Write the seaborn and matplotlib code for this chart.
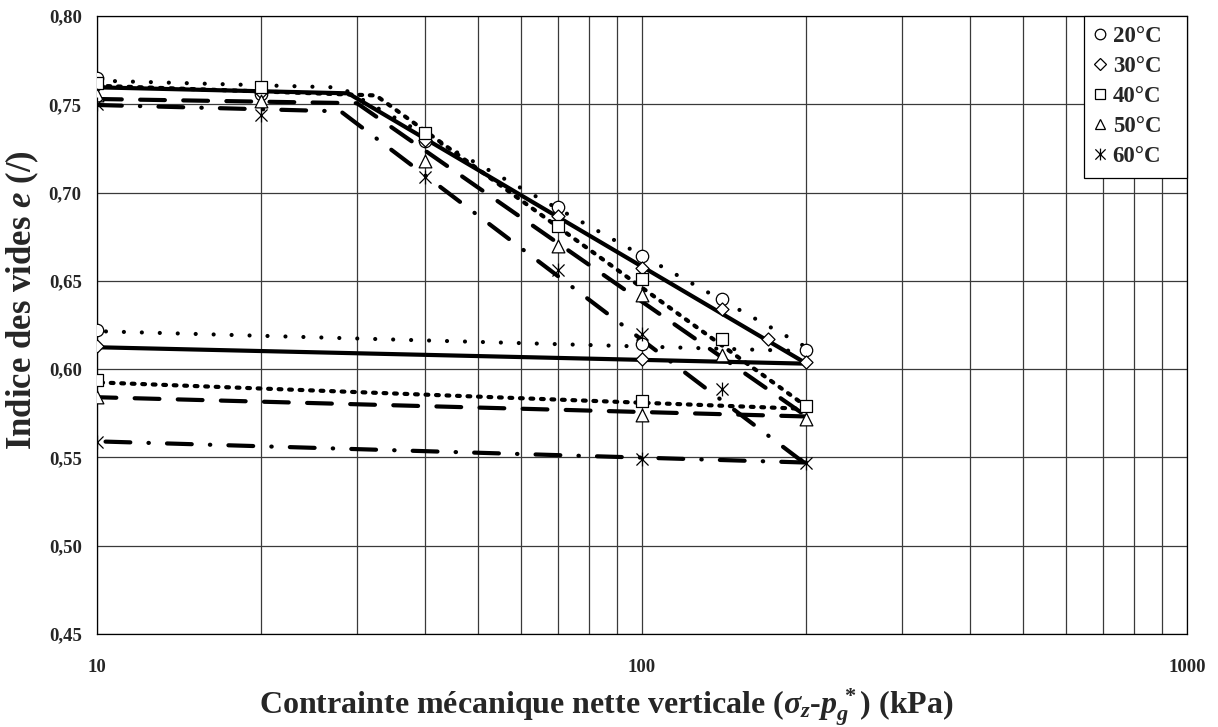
import numpy as np
import pandas as pd
import matplotlib
matplotlib.use("Agg")
import matplotlib.pyplot as plt
from matplotlib.path import Path
from matplotlib.lines import Line2D
from matplotlib.ticker import FixedLocator, FuncFormatter, NullFormatter
import seaborn as sns

# ---- data -----------------------------------------------------------------
temps = ["20°C", "30°C", "40°C", "50°C", "60°C"]

# measured void ratio, loading path
sigma_load = [10, 20, 40, 70, 100, 140, 200]
sigma_load_30 = [10, 20, 40, 70, 100, 140, 170, 200]
e_load_20 = [0.765, 0.756, 0.729, 0.692, 0.664, 0.640, 0.611]
e_load_30 = [0.761, 0.757, 0.730, 0.687, 0.657, 0.634, 0.617, 0.604]
e_load_40 = [0.762, 0.760, 0.734, 0.681, 0.651, 0.617, 0.579]
e_load_50 = [0.755, 0.752, 0.718, 0.670, 0.642, 0.608, 0.572]
e_load_60 = [0.750, 0.744, 0.709, 0.656, 0.620, 0.589, 0.547]

# measured void ratio, unloading path
sigma_unload = [100, 10]
e_unload_20 = [0.614, 0.622]
e_unload_30 = [0.606, 0.613]
e_unload_40 = [0.582, 0.594]
e_unload_50 = [0.574, 0.584]
e_unload_60 = [0.549, 0.559]

# bilinear fits of the loading paths: start, yield point, end
fit_sigma_20 = [10, 28.0, 200]
fit_sigma_30 = [10, 28.9, 200]
fit_sigma_40 = [10, 32.5, 200]
fit_sigma_50 = [10, 30.0, 200]
fit_sigma_60 = [10, 28.0, 200]
fit_e_20 = [0.7634, 0.7595, 0.6125]
fit_e_30 = [0.7596, 0.7562, 0.6033]
fit_e_40 = [0.7605, 0.7550, 0.5790]
fit_e_50 = [0.7530, 0.7506, 0.5735]
fit_e_60 = [0.7496, 0.7460, 0.5461]

# linear fits of the unloading paths
fit_sigma_unload = [200, 10]
fit_unload_e_20 = [0.6102, 0.6215]
fit_unload_e_30 = [0.6031, 0.6124]
fit_unload_e_40 = [0.5775, 0.5925]
fit_unload_e_50 = [0.5732, 0.5841]
fit_unload_e_60 = [0.5471, 0.5591]

y_ticks = [0.45, 0.50, 0.55, 0.60, 0.65, 0.70, 0.75, 0.80]
x_ticks = [10, 100, 1000]

# ---- tables ---------------------------------------------------------------
load_pts = {
    "20°C": (sigma_load, e_load_20), "30°C": (sigma_load_30, e_load_30),
    "40°C": (sigma_load, e_load_40), "50°C": (sigma_load, e_load_50),
    "60°C": (sigma_load, e_load_60),
}
unload_pts = {
    "20°C": e_unload_20, "30°C": e_unload_30, "40°C": e_unload_40,
    "50°C": e_unload_50, "60°C": e_unload_60,
}
fits = {
    "20°C": (fit_sigma_20, fit_e_20, fit_unload_e_20),
    "30°C": (fit_sigma_30, fit_e_30, fit_unload_e_30),
    "40°C": (fit_sigma_40, fit_e_40, fit_unload_e_40),
    "50°C": (fit_sigma_50, fit_e_50, fit_unload_e_50),
    "60°C": (fit_sigma_60, fit_e_60, fit_unload_e_60),
}

rows = []
for t in temps:
    s_l, e_l, e_u = fits[t]
    for s, e in zip(s_l, e_l):
        rows.append((t, "load", s, e))
    for s, e in zip(fit_sigma_unload, e_u):
        rows.append((t, "unload", s, e))
lines = pd.DataFrame(rows, columns=["temp", "branch", "sigma", "e"])

pts = []
for t in temps:
    s_l, e_l = load_pts[t]
    pts += [(t, s, e) for s, e in zip(s_l, e_l)]
    pts += [(t, s, e) for s, e in zip(sigma_unload, unload_pts[t])]
points = pd.DataFrame(pts, columns=["temp", "sigma", "e"])

# ---- style ----------------------------------------------------------------
sns.set_style("white")
plt.rcParams["font.family"] = ["Liberation Serif", "DejaVu Serif"]
plt.rcParams["font.weight"] = "bold"
plt.rcParams["mathtext.fontset"] = "custom"
plt.rcParams["mathtext.rm"] = "Liberation Serif:bold"
plt.rcParams["mathtext.bf"] = "Liberation Serif:bold"
plt.rcParams["mathtext.it"] = "Liberation Serif:italic:bold"

star = Path(
    [(-1, -1), (1, 1), (-1, 1), (1, -1), (0, -1.15), (0, 1.15)],
    [Path.MOVETO, Path.LINETO, Path.MOVETO, Path.LINETO, Path.MOVETO, Path.LINETO],
)
markers = {"20°C": "o", "30°C": "D", "40°C": "s", "50°C": "^", "60°C": star}
msize = {"20°C": 80, "30°C": 44, "40°C": 68, "50°C": 84, "60°C": 100}
dash_map = {
    "20°C": (0.01, 4.3),
    "30°C": "",
    "40°C": (0.67, 1.85),
    "50°C": (5.95, 4.4),
    "60°C": (5.95, 4.35, 0.1, 4.35),
}

W, H = 1218, 727
fig = plt.figure(figsize=(W / 100, H / 100), dpi=100)
ax = fig.add_axes([97 / W, 1 - 634 / H, 1090 / W, 618 / H])

ax.set_xscale("log")
ax.set_xlim(10, 1000)
ax.set_ylim(0.45, 0.80)

# fitted trend lines
sns.lineplot(
    data=lines, x="sigma", y="e", style="temp", units="branch",
    estimator=None, sort=False, dashes=dash_map, color="black",
    linewidth=3.0, legend=False, ax=ax, zorder=3,
    dash_capstyle="round", solid_capstyle="round",
)

# measured points
for t in temps:
    sub = points[points["temp"] == t]
    sns.scatterplot(
        data=sub, x="sigma", y="e", marker=markers[t], s=msize[t],
        color="white", edgecolor="black", linewidth=0.9, zorder=5,
        legend=False, ax=ax,
    )

# grid, ticks, frame
ax.xaxis.set_major_locator(FixedLocator(x_ticks))
ax.xaxis.set_minor_locator(FixedLocator(
    [m * d for d in (10, 100) for m in range(2, 10)]))
ax.xaxis.set_major_formatter(FuncFormatter(lambda v, p: f"{v:g}"))
ax.xaxis.set_minor_formatter(NullFormatter())
ax.yaxis.set_major_locator(FixedLocator(y_ticks))
ax.yaxis.set_major_formatter(FuncFormatter(lambda v, p: f"{v:.2f}".replace(".", ",")))

ax.grid(which="major", axis="both", color="#3a3a3a", linewidth=0.9, zorder=0)
ax.grid(which="minor", axis="x", color="#3a3a3a", linewidth=0.9, zorder=0)
ax.set_axisbelow(True)
for sp in ax.spines.values():
    sp.set_color("black")
    sp.set_linewidth(0.9)

ax.tick_params(axis="both", which="major", direction="out", length=5,
               width=0.9, color="black", labelsize=13.5, pad=6)
ax.tick_params(axis="x", which="major", pad=13)
ax.tick_params(axis="x", which="minor", length=0)
ax.set_xlabel("")
ax.set_ylabel("")

fig.text(606 / W, 1 - 714 / H,
         r"Contrainte mécanique nette verticale ($\sigma_z$-$p_g^{\,*}$) (kPa)",
         ha="center", va="baseline", fontsize=23, fontweight="bold")
fig.text(22 / W, 1 - 300 / H, r"Indice des vides $e$ (/)",
         rotation=90, ha="center", va="center", fontsize=25, fontweight="bold")

# legend: markers only
handles = [
    Line2D([], [], linestyle="none", marker=markers[t],
           markersize=0.85 * np.sqrt(msize[t]),
           markerfacecolor="white", markeredgecolor="black", markeredgewidth=0.9)
    for t in temps
]
leg = ax.legend(
    handles, temps, loc="upper left",
    bbox_to_anchor=((1084 - 97) / 1090, 1.0, 103 / 1090, 0.0), mode="expand",
    borderaxespad=0, frameon=True, fancybox=False, framealpha=1,
    edgecolor="black", prop={"family": "Liberation Serif", "weight": "bold", "size": 16.5},
    handlelength=0.5, handletextpad=0.3, labelspacing=0.39, borderpad=0.45,
)
leg.get_frame().set_linewidth(0.9)
leg.set_zorder(10)

fig.savefig("out.png", dpi=100, facecolor="white")
